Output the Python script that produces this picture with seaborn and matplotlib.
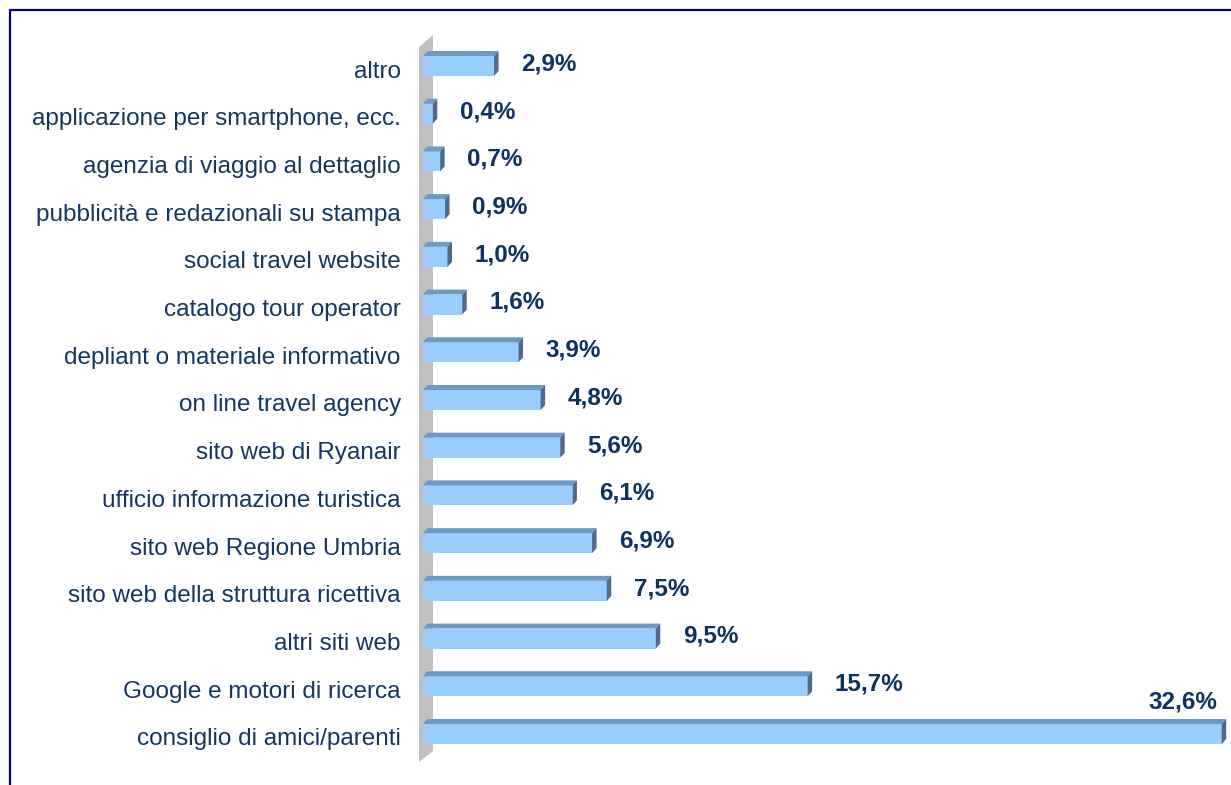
import seaborn as sns
import matplotlib.pyplot as plt
import matplotlib.transforms as mtransforms
import pandas as pd
from matplotlib.patches import Polygon
from matplotlib.lines import Line2D

categories = [
    "altro",
    "applicazione per smartphone, ecc.",
    "agenzia di viaggio al dettaglio",
    "pubblicità e redazionali su stampa",
    "social travel website",
    "catalogo tour operator",
    "depliant o materiale informativo",
    "on line travel agency",
    "sito web di Ryanair",
    "ufficio informazione turistica",
    "sito web Regione Umbria",
    "sito web della struttura ricettiva",
    "altri siti web",
    "Google e motori di ricerca",
    "consiglio di amici/parenti",
]
values = [2.9, 0.4, 0.7, 0.9, 1.0, 1.6, 3.9, 4.8, 5.6, 6.1, 6.9, 7.5, 9.5, 15.7, 32.6]
value_labels = [f"{v:.1f}%".replace(".", ",") for v in values]

sns.set_style("white")
plt.rcParams["font.family"] = ["Liberation Sans", "DejaVu Sans"]

W, H = 1231, 785
fig = plt.figure(figsize=(W / 100, H / 100), dpi=100)
# axes: x=0 at 423px, rows centred from 66px to 734px
ax = fig.add_axes([423 / W, (H - 770) / H, (W - 423) / W, 740 / H])

df = pd.DataFrame({"categoria": categories, "valore": values})
sns.barplot(data=df, x="valore", y="categoria", orient="h", color="#99CCFF",
            saturation=1, width=0.42, linewidth=0, ax=ax, zorder=3)

px_x = 24.5          # pixels per percent
px_y = 47.71         # pixels per row
ax.set_xlim(0, (W - 423) / px_x)
ax.set_ylim(14 + 36 / px_y, -36 / px_y)

bars = list(ax.patches)

# gray back wall
wall = Polygon([(-4 / px_x, 14 + 28 / px_y), (10 / px_x, 14 + 17 / px_y),
                (10 / px_x, -31 / px_y), (-4 / px_x, -19 / px_y)],
               closed=True, facecolor="#C0C0C0", edgecolor="none",
               clip_on=False, zorder=1)
ax.add_patch(wall)

# 3D top and side faces of the bars
dx = 4.5 / px_x
dy = 5 / px_y
for p in bars:
    x0, y0, w, h = p.get_x(), p.get_y(), p.get_width(), p.get_height()
    top = Polygon([(x0, y0), (x0 + w, y0), (x0 + w + dx, y0 - dy), (x0 + dx, y0 - dy)],
                  closed=True, facecolor="#7098C4", edgecolor="none",
                  clip_on=False, zorder=4)
    side = Polygon([(x0 + w, y0), (x0 + w + dx, y0 - dy),
                    (x0 + w + dx, y0 + h - dy), (x0 + w, y0 + h)],
                   closed=True, facecolor="#4E6A8E", edgecolor="none",
                   clip_on=False, zorder=4)
    ax.add_patch(top)
    ax.add_patch(side)

# value labels
for i, (v, lab) in enumerate(zip(values, value_labels)):
    if v == max(values):
        ax.annotate(lab, (v, i), xytext=(-3, 23), textcoords="offset points",
                    ha="right", va="center", fontsize=17.5, fontweight="bold",
                    color="#0E3260")
    else:
        ax.annotate(lab, (v, i), xytext=(19.5, 1.5), textcoords="offset points",
                    ha="left", va="center", fontsize=17.5, fontweight="bold",
                    color="#0E3260")

ax.set_xlabel("")
ax.set_ylabel("")
ax.set_xticks([])
ax.tick_params(axis="y", length=0, pad=16, labelsize=17.5, labelcolor="#15365F")
shift = mtransforms.ScaledTranslation(0, -3 / 100, fig.dpi_scale_trans)
for t in ax.get_yticklabels():
    t.set_transform(t.get_transform() + shift)
for s in ax.spines.values():
    s.set_visible(False)
ax.patch.set_alpha(0)

# frame lines
fig.add_artist(Line2D([10 / W, 1], [1 - 10 / H, 1 - 10 / H], color="#000080", lw=1.6))
fig.add_artist(Line2D([10 / W, 10 / W], [0, 1 - 10 / H], color="#000080", lw=1.6))

fig.savefig("out.png", dpi=100)
